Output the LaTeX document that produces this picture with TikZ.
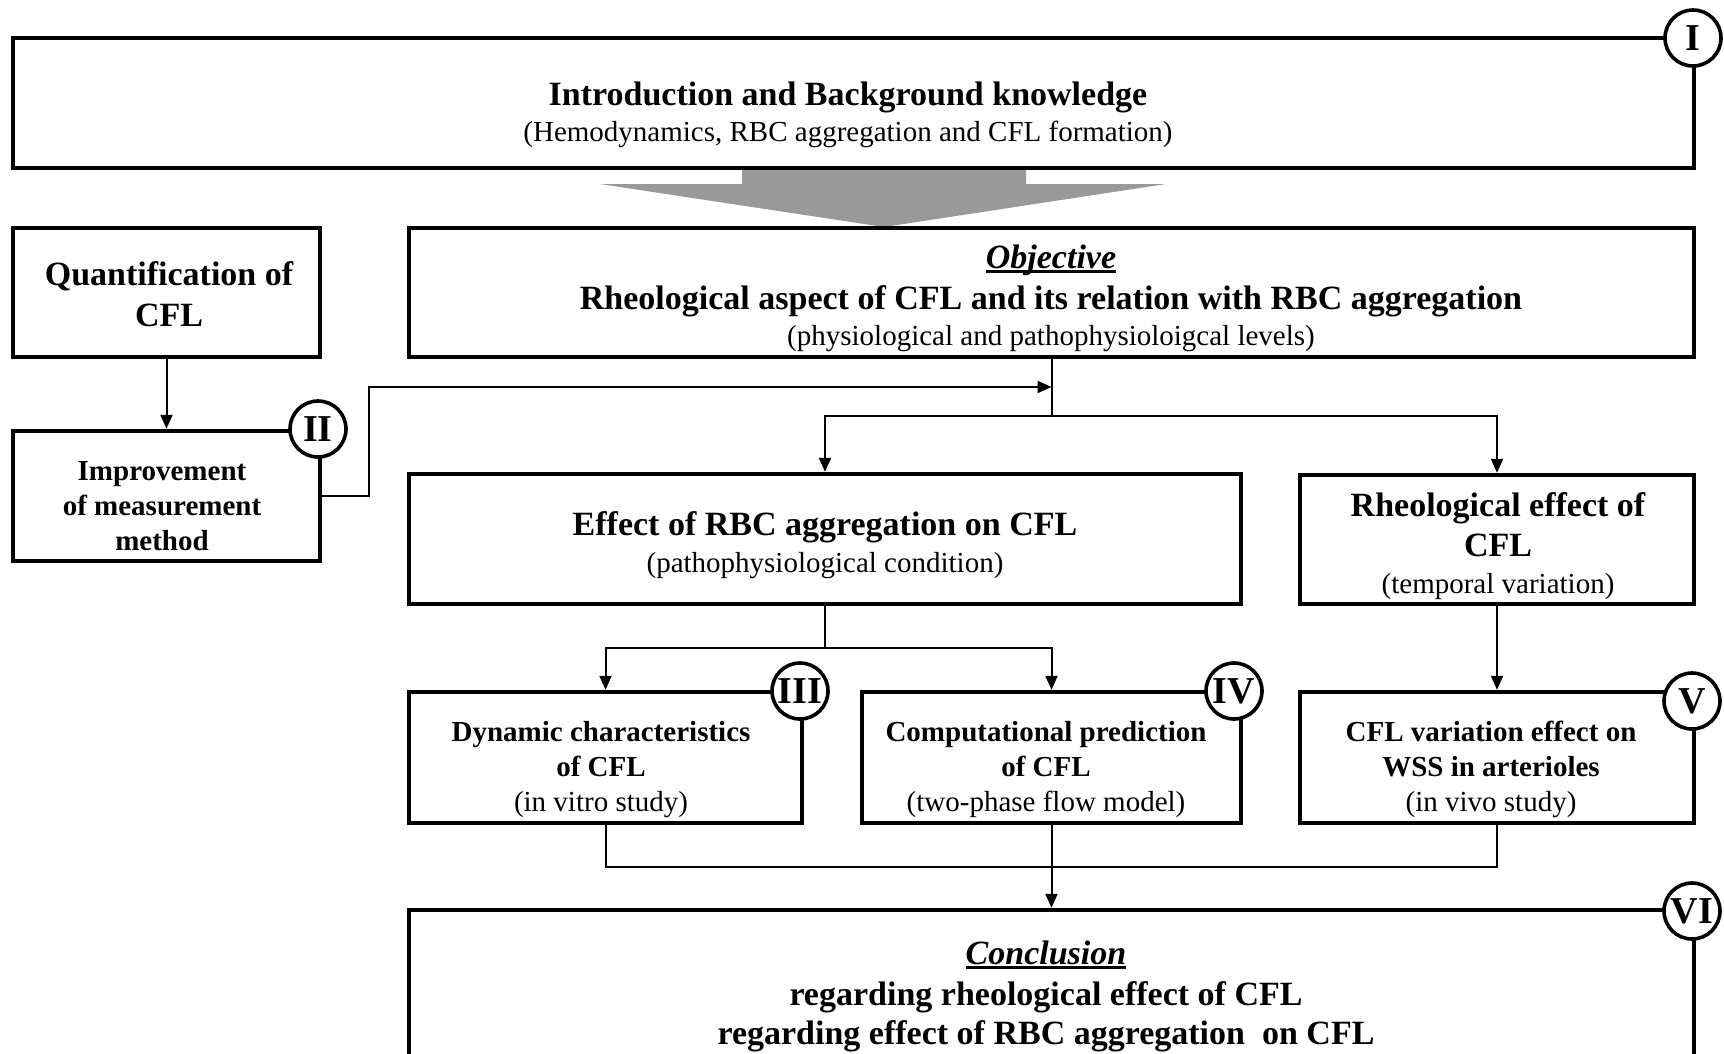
\documentclass[tikz,border=0pt]{standalone}
\usepackage{fontspec}
\setmainfont{Liberation Serif}
\usetikzlibrary{arrows.meta}
\definecolor{arrowgray}{RGB}{153,153,153}
\newcommand\myul[1]{\setbox0\hbox{#1}\rlap{\rule[-5pt]{\wd0}{2.8pt}}\box0}
\begin{document}
\begin{tikzpicture}[x=1pt,y=-1pt,
  blk/.style={draw, line width=4.4pt, inner sep=0pt},
  num/.style={circle, draw, fill=white, line width=3.6pt, minimum size=56pt, inner sep=0pt,
    font=\bfseries\fontsize{38}{40}\selectfont},
  conn/.style={line width=2pt},
  arr/.style={conn, -{Triangle[length=14pt,width=12pt]}},
  tb/.style={anchor=base, inner sep=0pt, font=\bfseries\fontsize{34}{40}\selectfont},
  ts/.style={anchor=base, inner sep=0pt, font=\bfseries\fontsize{29}{34}\selectfont},
  tr/.style={anchor=base, inner sep=0pt, font=\fontsize{29}{34}\selectfont}]
\useasboundingbox (0,0) rectangle (1724,1053);
\fill[white] (0,0) rectangle (1724,1053);

% big gray arrow
\fill[arrowgray] (742,168) -- (1026,168) -- (1026,184) -- (1166,184) -- (884,227)
  -- (600,184) -- (742,184) -- cycle;

% boxes
\node[blk, minimum width=1681pt, minimum height=130pt] (intro) at (853.5,103) {};
\node[blk, minimum width=307pt, minimum height=129pt] (quant) at (166.5,292.5) {};
\node[blk, minimum width=1285pt, minimum height=129pt] (obj) at (1051.5,292.5) {};
\node[blk, minimum width=307pt, minimum height=130pt] (impr) at (166.5,496) {};
\node[blk, minimum width=832pt, minimum height=130pt] (effect) at (825,539) {};
\node[blk, minimum width=394pt, minimum height=129pt] (rheo) at (1497,539.5) {};
\node[blk, minimum width=393pt, minimum height=131pt] (iii) at (605.5,757.5) {};
\node[blk, minimum width=379pt, minimum height=131pt] (iv) at (1051.5,757.5) {};
\node[blk, minimum width=394pt, minimum height=131pt] (v) at (1497,757.5) {};
\begin{scope}
\clip (0,0) rectangle (1724,1053);
\node[blk, minimum width=1285pt, minimum height=190pt] (vi) at (1051.5,1005) {};
\end{scope}

% connectors
\coordinate (fbc) at (369,387);
\coordinate (fb) at (1051.5,387);
\coordinate (j1) at (1051.5,416);
\coordinate (j2) at (825,648);
\coordinate (j3) at (1051.5,867);
\draw[arr] (quant.south) -- (impr.north);
\draw[arr] (impr.east) -| (fbc) -- (fb);
\draw[conn] (obj.south) -- (j1);
\draw[arr] (j1) -| (effect.north);
\draw[arr] (j1) -| (rheo.north);
\draw[conn] (effect.south) -- (j2);
\draw[arr] (j2) -| (iii.north);
\draw[arr] (j2) -| (iv.north);
\draw[arr] (rheo.south) -- (v.north);
\draw[conn] (iii.south) |- (j3) -| (v.south);
\draw[arr] (iv.south) -- (vi.north);

% numbered circles
\node[num] (cI) at (1693,38) {I};
\node[num] (cII) at (318,429) {II};
\node[num] (cIII) at (800,691) {III};
\node[num] (cIV) at (1234,691) {IV};
\node[num] (cV) at (1692,701) {V};
\node[num] (cVI) at (1692,911) {VI};

% texts
\node[tb] (introA) at (848,105) {Introduction and Background knowledge};
\node[tr] (introB) at (848,141) {(Hemodynamics, RBC aggregation and CFL formation)};

\node[tb] (quantA) at (169,285) {Quantification of};
\node[tb] (quantB) at (169,326) {CFL};

\node[tb] (objA) at (1051,268) {\myul{\textit{Objective}}};
\node[tb] (objB) at (1051,309) {Rheological aspect of CFL and its relation with RBC aggregation};
\node[tr] (objC) at (1051,345) {(physiological and pathophysioloigcal levels)};

\node[ts] (imprA) at (162,480) {Improvement};
\node[ts] (imprB) at (162,515) {of measurement};
\node[ts] (imprC) at (162,550) {method};

\node[tb] (effA) at (825,535) {Effect of RBC aggregation on CFL};
\node[tr] (effB) at (825,572) {(pathophysiological condition)};

\node[tb] (rheoA) at (1498,516) {Rheological effect of};
\node[tb] (rheoB) at (1498,556) {CFL};
\node[tr] (rheoC) at (1498,593) {(temporal variation)};

\node[ts] (iiiA) at (601,741) {Dynamic characteristics};
\node[ts] (iiiB) at (601,776) {of CFL};
\node[tr] (iiiC) at (601,811) {(in vitro study)};

\node[ts] (ivA) at (1046,741) {Computational prediction};
\node[ts] (ivB) at (1046,776) {of CFL};
\node[tr] (ivC) at (1046,811) {(two-phase flow model)};

\node[ts] (vA) at (1491,741) {CFL variation effect on};
\node[ts] (vB) at (1491,776) {WSS in arterioles};
\node[tr] (vC) at (1491,811) {(in vivo study)};

\node[tb] (viA) at (1046,964) {\myul{\textit{Conclusion}}};
\node[tb] (viB) at (1046,1005) {regarding rheological effect of CFL};
\node[tb] (viC) at (1046,1044) {regarding effect of RBC aggregation~ on CFL};
\end{tikzpicture}
\end{document}
